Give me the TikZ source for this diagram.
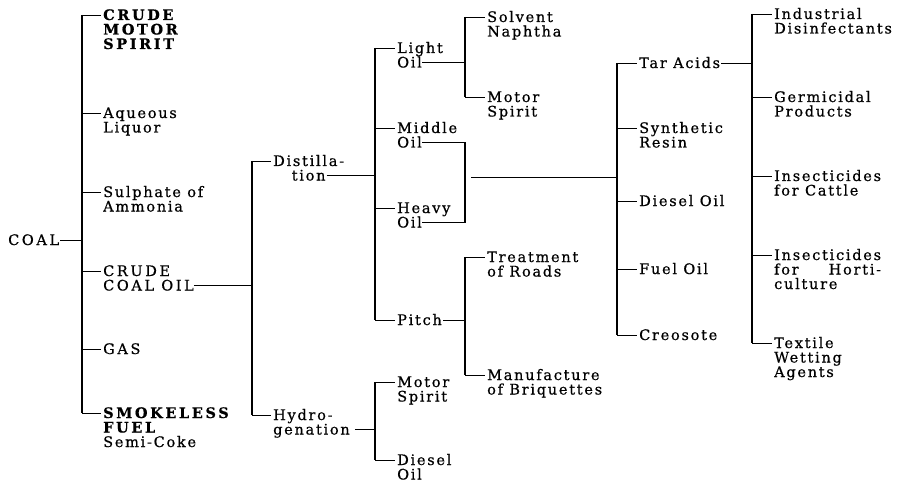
\documentclass[tikz,border=0pt]{standalone}
\usepackage{fontspec}
\setmainfont{DejaVu Serif}[LetterSpace=12,FakeBold=0.6]
\newfontfamily\capf{DejaVu Serif}[LetterSpace=18,FakeBold=0.6]
\usetikzlibrary{calc}
\newcommand\lns[1]{\vtop{\baselineskip=14.5pt\lineskiplimit=-20pt\lineskip=0pt\halign{##\hfil\cr#1\crcr}}}
\newcommand\clns[1]{\vtop{\baselineskip=14.5pt\lineskiplimit=-20pt\lineskip=0pt\halign{\hfil##\hfil\cr#1\crcr}}}
\newcommand\tk[2]{\coordinate (#2-t) at ([yshift=5pt]#2.base west); \draw[ln] (#2-t -| #1) -- ([xshift=-2pt]#2-t);}
\begin{document}
\begin{tikzpicture}[x=1pt,y=-1pt,
  lbl/.style={inner sep=0pt, anchor=base west, font=\fontsize{14.5}{14.5}\selectfont},
  ln/.style={line width=0.9pt},
  br/.style={line width=1.3pt}]
\useasboundingbox[fill=white] (0,0) rectangle (897,484);
% bracket x positions
\coordinate (b1) at (82,0);
\coordinate (b2) at (252,0);
\coordinate (b3) at (375,0);
\coordinate (b4) at (465,0);
\coordinate (b5) at (617,0);
\coordinate (b6) at (752,0);
% level 0
\node[lbl] (coal) at (8,245) {\capf COAL};
% level 1
\node[lbl] (cms) at (103,20) {\lns{\capf\bfseries CRUDE\cr\capf\bfseries MOTOR\cr\capf\bfseries SPIRIT}};
\node[lbl] (aq) at (103,118) {\lns{Aqueous\cr Liquor}};
\node[lbl] (sa) at (103,197) {\lns{Sulphate of\cr Ammonia}};
\node[lbl] (cco) at (103,276) {\lns{\capf CRUDE\cr\capf COAL OIL}};
\node[lbl] (gas) at (103,354) {\capf GAS};
\node[lbl] (sf) at (103,418) {\lns{\capf\bfseries SMOKELESS\cr\capf\bfseries FUEL\cr Semi-Coke}};
% level 2
\node[lbl] (dist) at (273,166) {\clns{Distilla-\cr tion}};
\node[lbl] (hyd) at (273,420) {\lns{Hydro-\cr genation}};
% level 3
\node[lbl] (light) at (397,53) {\lns{Light\cr Oil}};
\node[lbl] (mid) at (397,133) {\lns{Middle\cr Oil}};
\node[lbl] (heavy) at (397,213) {\lns{Heavy\cr Oil}};
\node[lbl] (pitch) at (397,325) {Pitch};
\node[lbl] (hm) at (397,387) {\lns{Motor\cr Spirit}};
\node[lbl] (hd) at (397,465) {\lns{Diesel\cr Oil}};
% level 4
\node[lbl] (sol) at (487,22) {\lns{Solvent\cr Naphtha}};
\node[lbl] (ms) at (487,102) {\lns{Motor\cr Spirit}};
\node[lbl] (tr) at (487,262) {\lns{Treatment\cr of Roads}};
\node[lbl] (mb) at (487,380) {\lns{Manufacture\cr of Briquettes}};
% level 5
\node[lbl] (tar) at (639,68) {Tar Acids};
\node[lbl] (syn) at (639,133) {\lns{Synthetic\cr Resin}};
\node[lbl] (dio) at (639,206) {Diesel Oil};
\node[lbl] (fo) at (639,274) {Fuel Oil};
\node[lbl] (cre) at (639,340) {Creosote};
% level 6
\node[lbl] (ind) at (774,19) {\lns{Industrial\cr Disinfectants}};
\node[lbl] (ger) at (774,102) {\lns{Germicidal\cr Products}};
\node[lbl] (ic) at (774,181) {\lns{Insecticides\cr for Cattle}};
\node[lbl] (ih) at (774,260) {\lns{Insecticides\cr for\hfill Horti-\cr culture}};
\node[lbl] (tex) at (774,348) {\lns{Textile\cr Wetting\cr Agents}};
% ticks
\tk{b1}{cms}\tk{b1}{aq}\tk{b1}{sa}\tk{b1}{cco}\tk{b1}{gas}\tk{b1}{sf}
\tk{b2}{dist}\tk{b2}{hyd}
\tk{b3}{light}\tk{b3}{mid}\tk{b3}{heavy}\tk{b3}{pitch}\tk{b3}{hm}\tk{b3}{hd}
\tk{b4}{sol}\tk{b4}{ms}\tk{b4}{tr}\tk{b4}{mb}
\tk{b5}{tar}\tk{b5}{syn}\tk{b5}{dio}\tk{b5}{fo}\tk{b5}{cre}
\tk{b6}{ind}\tk{b6}{ger}\tk{b6}{ic}\tk{b6}{ih}\tk{b6}{tex}
% brackets
\draw[br] (cms-t -| b1) -- (sf-t -| b1);
\draw[br] (dist-t -| b2) -- (hyd-t -| b2);
\draw[br] (light-t -| b3) -- (pitch-t -| b3);
\draw[br] (hm-t -| b3) -- (hd-t -| b3);
\draw[br] (sol-t -| b4) -- (ms-t -| b4);
\draw[br] (tr-t -| b4) -- (mb-t -| b4);
\draw[br] (tar-t -| b5) -- (cre-t -| b5);
\draw[br] (ind-t -| b6) -- (tex-t -| b6);
% parent connectors
\coordinate (coal-o) at ([xshift=1pt,yshift=5pt]coal.base east);
\draw[ln] (coal-o) -- (coal-o -| b1);
\coordinate (cco-o) at ([yshift=-9.5pt]cco.base east);
\draw[ln] (cco-o) -- (cco-o -| b2);
\coordinate (dist-o) at ([xshift=18pt,yshift=-9.5pt]dist.base);
\draw[ln] (dist-o) -- (dist-o -| b3);
\coordinate (hyd-o) at ([xshift=5pt,yshift=-9.5pt]hyd.base east);
\draw[ln] (hyd-o) -- (hyd-o -| b3);
\coordinate (light-o) at ([xshift=25pt,yshift=-9.5pt]light.base west);
\draw[ln] (light-o) -- (light-o -| b4);
\coordinate (mid-o) at ([xshift=25pt,yshift=-9.5pt]mid.base west);
\draw[ln] (mid-o) -- (mid-o -| b4);
\coordinate (heavy-o) at ([xshift=25pt,yshift=-9.5pt]heavy.base west);
\draw[ln] (heavy-o) -- (heavy-o -| b4);
\draw[br] (mid-o -| b4) -- (heavy-o -| b4);
\coordinate (mh) at (471,177);
\draw[ln] (mh) -- (mh -| b5);
\coordinate (pitch-o) at ([xshift=1pt,yshift=5pt]pitch.base east);
\draw[ln] (pitch-o) -- (pitch-o -| b4);
\coordinate (tar-o) at ([xshift=1pt,yshift=5pt]tar.base east);
\draw[ln] (tar-o) -- (tar-o -| b6);
\end{tikzpicture}
\end{document}
